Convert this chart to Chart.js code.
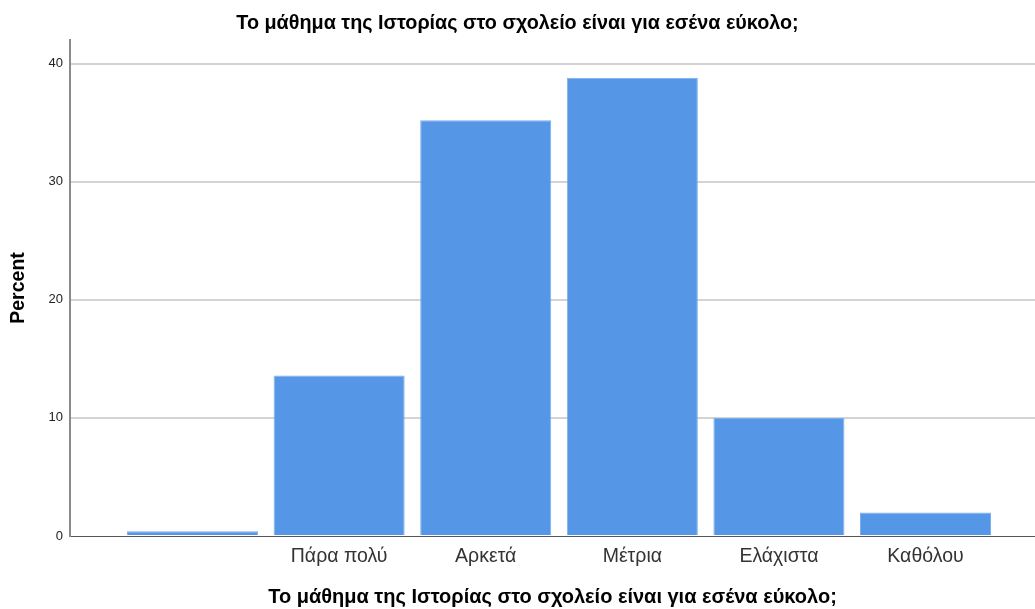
<!DOCTYPE html>
<html>
<head>
<meta charset="utf-8">
<script src="https://cdn.jsdelivr.net/npm/chart.js@4"></script>
<style>
  html, body { margin: 0; padding: 0; background: #fff; }
  #wrap { width: 1035px; height: 609px; }
</style>
</head>
<body>
<div id="wrap"><canvas id="chart"></canvas></div>
<script>
// ---------------- Data -----------------------
const titleText = "Το μάθημα της Ιστορίας στο σχολείο είναι για εσένα εύκολο;";
const categories = ["", "Πάρα πολύ", "Αρκετά", "Μέτρια", "Ελάχιστα", "Καθόλου"];
const percentValues = [0.4, 13.6, 35.2, 38.8, 10.0, 2.0];
const yTicks = [0, 10, 20, 30, 40];

const FONT = "'Liberation Sans', Arial, sans-serif";
Chart.defaults.font.family = FONT;

new Chart(document.getElementById("chart"), {
  type: "bar",
  data: {
    datasets: [
      {
        label: "Percent",
        data: percentValues.map((v, i) => ({ x: i, y: v })),
        backgroundColor: "#5596e6",
        borderColor: "#7aaeee",
        borderWidth: 1,
        categoryPercentage: 1,
        barPercentage: 0.894
      }
    ]
  },
  options: {
    responsive: true,
    maintainAspectRatio: false,
    animation: false,
    layout: { padding: 0 },
    plugins: {
      legend: { display: false },
      tooltip: { enabled: false },
      title: {
        display: true,
        text: titleText,
        color: "#000",
        font: { size: 19.8, weight: "bold" },
        padding: { top: 12, bottom: 4.2 }
      }
    },
    scales: {
      x: {
        type: "linear",
        offset: false,
        min: -0.836,
        max: 5.747,
        afterBuildTicks: (scale) => {
          scale.ticks = categories.map((c, i) => ({ value: i }));
        },
        afterFit: (scale) => { scale.height = 73; },
        grid: { display: false, drawTicks: false, offset: false },
        border: { display: true, color: "#555", width: 1 },
        ticks: {
          autoSkip: false,
          maxRotation: 0,
          padding: 9,
          color: "#333",
          font: { size: 19.5 },
          callback: (v) => categories[v]
        },
        title: {
          display: true,
          text: titleText,
          color: "#000",
          font: { size: 20, weight: "bold" },
          padding: { top: 0, bottom: 0 }
        }
      },
      y: {
        min: 0,
        max: 42,
        afterBuildTicks: (scale) => {
          scale.ticks = yTicks.map((v) => ({ value: v }));
        },
        afterFit: (scale) => { scale.width = 70; },
        grid: {
          drawTicks: false,
          lineWidth: 2,
          color: (ctx) => (ctx.tick && ctx.tick.value === 0 ? "rgba(0,0,0,0)" : "#d3d3d3")
        },
        border: { display: true, color: "#8a8a8a", width: 2 },
        ticks: {
          padding: 7,
          color: "#222",
          font: { size: 13 }
        },
        title: {
          display: true,
          text: "Percent",
          color: "#000",
          font: { size: 19.5, weight: "bold" },
          padding: { top: 7, bottom: 7 }
        }
      }
    }
  }
});
</script>
</body>
</html>
